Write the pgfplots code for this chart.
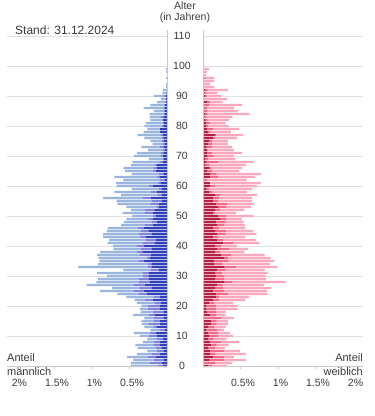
\documentclass[border=0pt]{standalone}
\usepackage{fontspec}
\setmainfont{Liberation Sans}
\usepackage{pgfplots}
\usepackage{pgfplotstable}
\pgfplotsset{compat=1.18}
\definecolor{mdark}{HTML}{3141B7}
\definecolor{mmed}{HTML}{8184D8}
\definecolor{mlight}{HTML}{9AB6DE}
\definecolor{wdark}{HTML}{B52146}
\definecolor{wmed}{HTML}{EF6A88}
\definecolor{wlight}{HTML}{F9A8BD}
\definecolor{gridc}{HTML}{E0E0E0}
\definecolor{axc}{HTML}{CACACA}
\definecolor{txt}{HTML}{3A3A3A}

\pgfplotstableread{
age d m l
0 0.05 0.07 0.36
1 0.07 0.16 0.25
2 0.04 0.13 0.28
3 0.15 0.11 0.27
4 0.09 0.11 0.20
5 0.04 0.09 0.13
6 0.07 0.08 0.24
7 0.09 0.09 0.24
8 0.09 0.08 0.15
9 0.05 0.09 0.12
10 0.13 0.11 0.12
11 0.15 0.08 0.21
12 0.03 0.07 0.12
13 0.13 0.05 0.12
14 0.09 0.15 0.09
15 0.09 0.09 0.16
16 0.04 0.13 0.13
17 0.16 0.08 0.21
18 0.04 0.15 0.16
19 0.09 0.16 0.11
20 0.09 0.16 0.09
21 0.08 0.08 0.24
22 0.19 0.11 0.13
23 0.09 0.08 0.37
24 0.27 0.11 0.28
25 0.31 0.13 0.45
26 0.20 0.16 0.37
27 0.29 0.15 0.63
28 0.23 0.15 0.56
29 0.24 0.13 0.55
30 0.24 0.08 0.48
31 0.24 0.08 0.61
32 0.11 0.11 0.36
33 0.20 0.05 0.93
34 0.20 0.05 0.67
35 0.31 0.07 0.52
36 0.23 0.04 0.64
37 0.21 0.15 0.57
38 0.32 0.08 0.49
39 0.20 0.15 0.36
40 0.31 0.09 0.32
41 0.16 0.16 0.47
42 0.15 0.13 0.49
43 0.28 0.08 0.49
44 0.20 0.17 0.48
45 0.24 0.11 0.45
46 0.31 0.08 0.40
47 0.19 0.11 0.31
48 0.13 0.07 0.37
49 0.19 0.07 0.28
50 0.15 0.04 0.27
51 0.19 0.11 0.29
52 0.16 0.13 0.19
53 0.11 0.03 0.40
54 0.11 0.11 0.44
55 0.07 0.13 0.47
56 0.21 0.11 0.53
57 0.07 0.05 0.49
58 0.13 0.08 0.49
59 0.07 0.04 0.36
60 0.19 0.05 0.43
61 0.08 0.04 0.56
62 0.03 0.07 0.48
63 0.09 0.04 0.57
64 0.04 0.07 0.36
65 0.15 0.04 0.37
66 0.13 0.05 0.40
67 0.13 0.03 0.32
68 0.05 0.05 0.36
69 0.04 0.01 0.19
70 0.05 0.03 0.36
71 0.04 0.04 0.32
72 0.03 0.03 0.19
73 0.04 0.05 0.25
74 0.03 0.03 0.13
75 0.04 0.03 0.15
76 0.04 0.03 0.23
77 0.05 0.03 0.31
78 0.09 0.01 0.21
79 0.09 0.00 0.17
80 0.04 0.03 0.23
81 0.04 0.01 0.23
82 0.05 0.01 0.16
83 0.04 0.04 0.15
84 0.03 0.01 0.19
85 0.03 0.01 0.13
86 0.03 0.01 0.27
87 0.03 0.00 0.19
88 0.01 0.01 0.11
89 0.01 0.00 0.07
90 0.01 0.03 0.13
91 0.00 0.01 0.05
92 0.00 0.00 0.05
93 0.00 0.00 0.01
94 0.00 0.00 0.01
95 0.00 0.00 0.00
96 0.00 0.00 0.01
97 0.00 0.00 0.00
98 0.00 0.00 0.01
99 0.00 0.00 0.01
}\maennlich

\pgfplotstableread{
age d m l
0 0.07 0.05 0.20
1 0.01 0.15 0.23
2 0.08 0.20 0.29
3 0.13 0.15 0.13
4 0.09 0.07 0.41
5 0.09 0.19 0.21
6 0.07 0.09 0.13
7 0.11 0.07 0.16
8 0.09 0.15 0.24
9 0.07 0.07 0.17
10 0.08 0.12 0.20
11 0.07 0.13 0.16
12 0.04 0.15 0.09
13 0.07 0.08 0.15
14 0.11 0.07 0.15
15 0.11 0.07 0.15
16 0.01 0.23 0.17
17 0.09 0.08 0.13
18 0.05 0.13 0.12
19 0.04 0.13 0.29
20 0.04 0.13 0.29
21 0.08 0.07 0.25
22 0.13 0.08 0.35
23 0.17 0.04 0.40
24 0.17 0.16 0.53
25 0.13 0.15 0.57
26 0.16 0.11 0.64
27 0.19 0.07 0.55
28 0.28 0.11 0.71
29 0.16 0.12 0.56
30 0.17 0.11 0.55
31 0.16 0.09 0.61
32 0.19 0.11 0.52
33 0.28 0.16 0.55
34 0.15 0.11 0.63
35 0.15 0.19 0.61
36 0.28 0.05 0.57
37 0.24 0.13 0.45
38 0.16 0.07 0.32
39 0.19 0.16 0.25
40 0.16 0.08 0.21
41 0.27 0.13 0.35
42 0.19 0.08 0.43
43 0.13 0.07 0.36
44 0.19 0.11 0.41
45 0.16 0.15 0.36
46 0.13 0.08 0.35
47 0.19 0.09 0.28
48 0.17 0.13 0.24
49 0.23 0.08 0.21
50 0.20 0.11 0.36
51 0.13 0.03 0.28
52 0.16 0.07 0.32
53 0.20 0.11 0.33
54 0.17 0.15 0.36
55 0.13 0.07 0.45
56 0.13 0.08 0.44
57 0.16 0.07 0.49
58 0.08 0.04 0.47
59 0.04 0.04 0.57
60 0.09 0.07 0.56
61 0.09 0.00 0.68
62 0.01 0.04 0.53
63 0.09 0.11 0.49
64 0.09 0.09 0.59
65 0.05 0.07 0.36
66 0.08 0.03 0.41
67 0.03 0.05 0.49
68 0.04 0.16 0.47
69 0.03 0.04 0.36
70 0.05 0.09 0.27
71 0.05 0.07 0.40
72 0.05 0.01 0.35
73 0.04 0.08 0.27
74 0.07 0.05 0.21
75 0.08 0.04 0.21
76 0.13 0.03 0.29
77 0.16 0.01 0.36
78 0.07 0.03 0.27
79 0.05 0.08 0.35
80 0.04 0.03 0.27
81 0.04 0.05 0.21
82 0.03 0.03 0.29
83 0.00 0.04 0.35
84 0.03 0.03 0.56
85 0.01 0.04 0.41
86 0.01 0.04 0.36
87 0.00 0.08 0.44
88 0.05 0.04 0.17
89 0.00 0.00 0.32
90 0.03 0.01 0.20
91 0.00 0.04 0.15
92 0.03 0.03 0.27
93 0.00 0.00 0.15
94 0.01 0.00 0.08
95 0.00 0.00 0.15
96 0.00 0.03 0.12
97 0.01 0.00 0.03
98 0.00 0.00 0.05
99 0.00 0.00 0.08
100 0.00 0.00 0.00
101 0.00 0.00 0.01
102 0.00 0.00 0.00
103 0.00 0.00 0.00
104 0.00 0.00 0.01
}\weiblich

\pgfplotsset{
  pyr/.style={
    scale only axis, width=160pt, height=336pt,
    xmin=0, xmax=2.1333, ymin=0, ymax=112,
    enlargelimits=false, clip=false,
    xbar stacked, bar width=0.7,
    axis line style={draw=none},
    ytick={0,10,...,110}, ymajorgrids=true,
    grid style={draw=gridc, line width=0.8pt},
    ytick style={draw=none},
    xtick={0.5,1,1.5,2},
    xticklabels={0.5\%,1\%,1.5\%,2\%},
    xtick pos=lower, tick align=outside, major tick length=3pt,
    xtick style={draw=axc, line width=0.8pt},
    xticklabel style={font=\fontsize{10.5}{12}\selectfont, text=txt, xshift=2.5pt},
    xticklabel shift=7pt,
    /pgf/number format/assume math mode=true,
  }
}

\begin{document}
\begin{tikzpicture}[x=1pt,y=1pt]
\useasboundingbox (0,0) rectangle (375,416);

% left: maennlich
\begin{axis}[pyr, at={(7pt,50pt)}, anchor=south west, x dir=reverse,
  yticklabel=\empty]
\draw[axc, line width=0.8pt] (axis cs:0,0) -- (axis cs:0,112);
\draw[axc, line width=0.8pt] (axis cs:0,0) -- (axis cs:2.1333,0);
\addplot[fill=mdark, draw=none] table[x=d, y=age] {\maennlich};
\addplot[fill=mmed, draw=none] table[x=m, y=age] {\maennlich};
\addplot[fill=mlight, draw=none] table[x=l, y=age] {\maennlich};
\end{axis}

% right: weiblich
\begin{axis}[pyr, at={(203pt,50pt)}, anchor=south west,
  yticklabel pos=left,
  yticklabel style={anchor=center, xshift=-18pt, font=\fontsize{10.5}{12}\selectfont, text=txt}]
\draw[axc, line width=0.8pt] (axis cs:0,0) -- (axis cs:0,112);
\draw[axc, line width=0.8pt] (axis cs:0,0) -- (axis cs:2.1333,0);
\addplot[fill=wdark, draw=none] table[x=d, y=age] {\weiblich};
\addplot[fill=wmed, draw=none] table[x=m, y=age] {\weiblich};
\addplot[fill=wlight, draw=none] table[x=l, y=age] {\weiblich};
\end{axis}

\node[anchor=base west, text=txt, font=\fontsize{12}{14}\selectfont, inner sep=0] at (15,381) {Stand: 31.12.2024};
\node[anchor=center, text=txt, font=\fontsize{10.5}{12}\selectfont, inner sep=0] at (185,410) {Alter};
\node[anchor=center, text=txt, font=\fontsize{10.5}{12}\selectfont, inner sep=0] at (185,398.5) {(in Jahren)};
\node[anchor=base west, text=txt, font=\fontsize{11}{13}\selectfont, inner sep=0] at (7,55) {Anteil};
\node[anchor=base west, text=txt, font=\fontsize{11}{13}\selectfont, inner sep=0] at (7,40.5) {männlich};
\node[anchor=base east, text=txt, font=\fontsize{11}{13}\selectfont, inner sep=0] at (363,55) {Anteil};
\node[anchor=base east, text=txt, font=\fontsize{11}{13}\selectfont, inner sep=0] at (363,40.5) {weiblich};
\end{tikzpicture}
\end{document}
